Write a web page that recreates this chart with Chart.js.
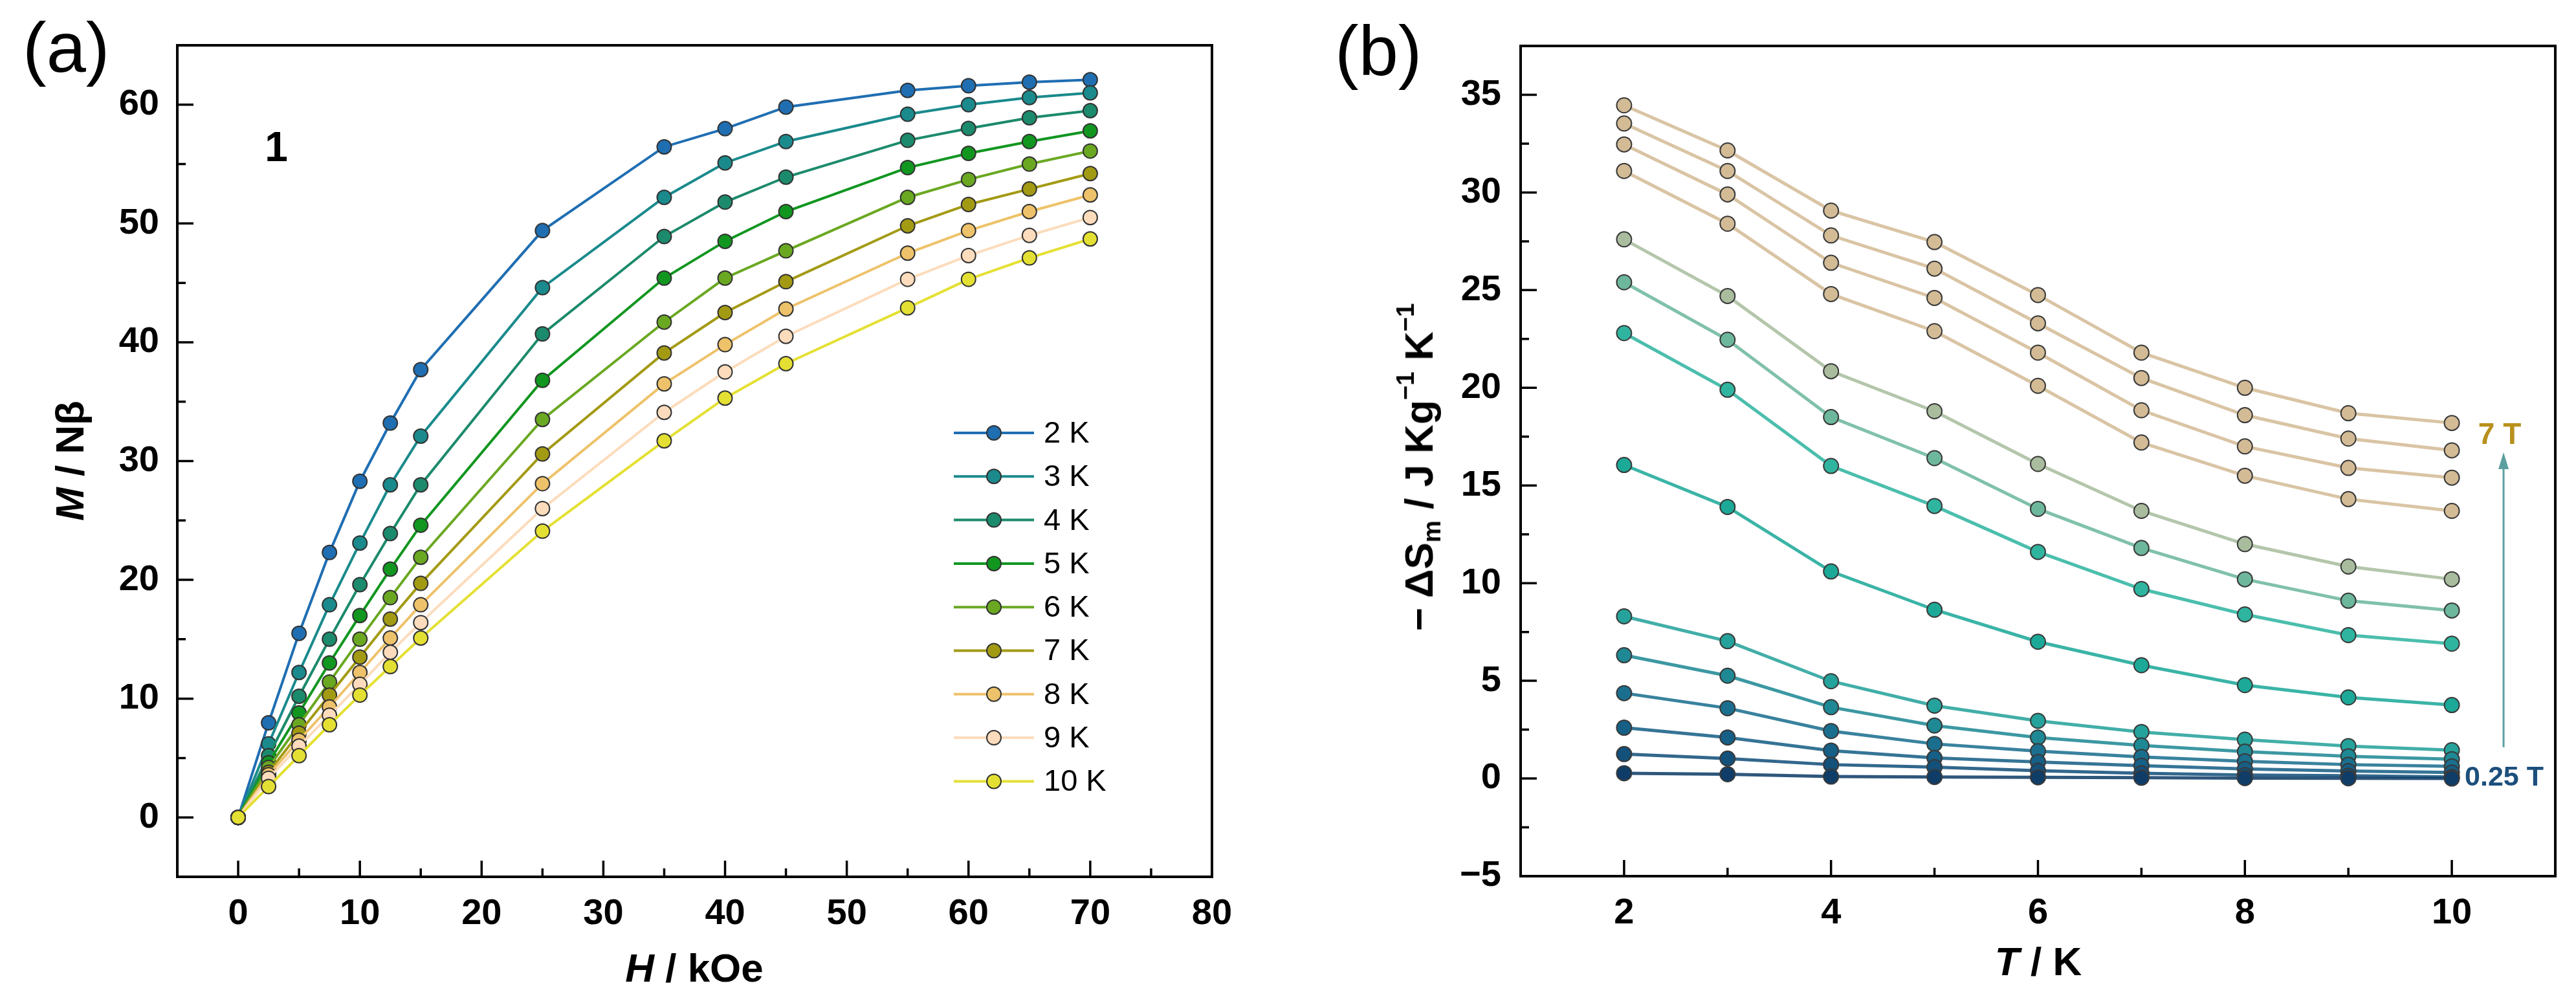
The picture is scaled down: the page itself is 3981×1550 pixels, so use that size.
<!DOCTYPE html>
<html>
<head>
<meta charset="utf-8">
<script src="https://cdn.jsdelivr.net/npm/chart.js@4.4.0/dist/chart.umd.min.js"></script>
<style>
  html, body { margin: 0; padding: 0; background: #fff; }
  body { width: 3981px; height: 1550px; position: relative; overflow: hidden; font-family: "Liberation Sans", Arial, sans-serif; }
  .box { position: absolute; top: 0; height: 1550px; }
  .txt { position: absolute; white-space: nowrap; line-height: 1; color: #000; }
  .c { transform: translate(-50%, -50%); }
  .r { transform: translate(-50%, -50%) rotate(-90deg); }
  .b { font-weight: bold; }
  sub, sup { font-size: 0.62em; line-height: 0; }
  sub { vertical-align: -0.3em; }
  sup { vertical-align: 0.75em; }
</style>
</head>
<body>
<div class="box" style="left:0;width:1990px"><canvas id="chartA" width="1990" height="1550"></canvas></div>
<div class="box" style="left:1990px;width:1991px"><canvas id="chartB" width="1991" height="1550"></canvas></div>

<div class="txt" style="left:35px;top:18px;font-size:110px">(a)</div>
<div class="txt" style="left:2063px;top:23px;font-size:110px">(b)</div>
<div class="txt c b" style="left:427px;top:227px;font-size:64px">1</div>
<div class="txt r b" style="left:108px;top:712px;font-size:62px"><i>M</i> / Nβ</div>
<div class="txt c b" style="left:1073px;top:1496px;font-size:62px"><i>H</i> / kOe</div>
<div class="txt r b" style="left:2193px;top:722px;font-size:62px">− ΔS<sub>m</sub> / J Kg<sup>−1</sup> K<sup>−1</sup></div>
<div class="txt c b" style="left:3150px;top:1486px;font-size:62px"><i>T</i> / K</div>
<div class="txt c b" style="left:3863px;top:670px;font-size:46px;color:#b8901c">7 T</div>
<div class="txt c b" style="left:3870px;top:1199px;font-size:43px;color:#1c4f7c">0.25 T</div>

<script>
// (a) magnetisation vs field
const fieldA = [0, 2.5, 5, 7.5, 10, 12.5, 15, 25, 35, 40, 45, 55, 60, 65, 70];
const tempLabelsA = ['2 K', '3 K', '4 K', '5 K', '6 K', '7 K', '8 K', '9 K', '10 K'];
const m2K  = [0, 7.97, 15.5, 22.3, 28.3, 33.2, 37.7, 49.4, 56.45, 57.98, 59.8, 61.2, 61.6, 61.9, 62.1];
const m3K  = [0, 6.2, 12.2, 17.9, 23.1, 28.0, 32.1, 44.6, 52.2, 55.1, 56.9, 59.2, 60.0, 60.6, 61.0];
const m4K  = [0, 5.2, 10.2, 15.0, 19.6, 23.9, 28.0, 40.7, 48.9, 51.8, 53.9, 57.0, 58.0, 58.9, 59.5];
const m5K  = [0, 4.6, 8.8, 13.0, 17.0, 20.9, 24.6, 36.8, 45.4, 48.5, 51.0, 54.7, 55.9, 56.9, 57.8];
const m6K  = [0, 4.2, 7.8, 11.4, 15.0, 18.5, 21.9, 33.5, 41.7, 45.4, 47.7, 52.2, 53.7, 55.0, 56.1];
const m7K  = [0, 3.8, 7.1, 10.3, 13.5, 16.7, 19.7, 30.6, 39.1, 42.5, 45.1, 49.8, 51.6, 52.9, 54.2];
const m8K  = [0, 3.6, 6.5, 9.3, 12.2, 15.1, 17.9, 28.1, 36.5, 39.8, 42.8, 47.5, 49.4, 51.0, 52.4];
const m9K  = [0, 3.3, 6.0, 8.6, 11.2, 13.9, 16.4, 26.0, 34.1, 37.5, 40.5, 45.3, 47.3, 49.0, 50.5];
const m10K = [0, 2.6, 5.2, 7.8, 10.3, 12.7, 15.1, 24.1, 31.7, 35.3, 38.2, 42.9, 45.3, 47.1, 48.7];
const xTicksA = [0, 10, 20, 30, 40, 50, 60, 70, 80];
const yTicksA = [0, 10, 20, 30, 40, 50, 60];

// (b) entropy change vs temperature, one curve per field
const tempB = [2, 3, 4, 5, 6, 7, 8, 9, 10];
const ds0_25 = [0.27, 0.22, 0.10, 0.08, 0.06, 0.04, 0.02, 0.01, 0.0];
const ds0_5  = [1.25, 1.02, 0.71, 0.58, 0.40, 0.27, 0.18, 0.14, 0.08];
const ds0_75 = [2.6, 2.1, 1.43, 1.05, 0.85, 0.66, 0.49, 0.38, 0.31];
const ds1    = [4.37, 3.6, 2.43, 1.77, 1.4, 1.1, 0.88, 0.71, 0.62];
const ds1_5  = [6.31, 5.26, 3.65, 2.71, 2.1, 1.69, 1.38, 1.14, 0.99];
const ds2    = [8.3, 7.03, 4.98, 3.73, 2.95, 2.38, 1.99, 1.66, 1.45];
const ds2_5  = [16.05, 13.9, 10.6, 8.64, 7.0, 5.8, 4.78, 4.15, 3.76];
const ds3    = [22.8, 19.9, 16.0, 13.95, 11.6, 9.7, 8.4, 7.34, 6.9];
const ds4    = [25.4, 22.46, 18.5, 16.4, 13.8, 11.8, 10.2, 9.1, 8.6];
const ds5    = [27.6, 24.7, 20.85, 18.8, 16.1, 13.7, 12.0, 10.85, 10.2];
const ds5_5  = [31.1, 28.4, 24.8, 22.9, 20.1, 17.2, 15.5, 14.3, 13.7];
const ds6    = [32.46, 29.9, 26.4, 24.6, 21.8, 18.85, 17.0, 15.9, 15.4];
const ds6_5  = [33.53, 31.1, 27.8, 26.1, 23.3, 20.5, 18.6, 17.4, 16.8];
const ds7    = [34.46, 32.15, 29.07, 27.46, 24.75, 21.8, 20.0, 18.7, 18.2];
const fieldLabelsB = ['0.25 T', '0.5 T', '0.75 T', '1 T', '1.5 T', '2 T', '2.5 T', '3 T', '4 T', '5 T', '5.5 T', '6 T', '6.5 T', '7 T'];
const xTicksB = [2, 4, 6, 8, 10];
const yTicksB = [-5, 0, 5, 10, 15, 20, 25, 30, 35];

const colorsA = ['#1f6eb2', '#1a8a8c', '#1c8a6c', '#119620', '#6aa822', '#a39a14', '#eec26a', '#fcdcbc', '#e4e033'];
const colorsB = ['#0f3d68', '#13507a', '#165f86', '#1a6f8f', '#1e8894', '#25a29b', '#1ca998', '#2fb4a0', '#6db79c', '#a9bd9e',
                 '#d3bb96', '#d3bb96', '#d3bb96', '#d3bb96'];

Chart.defaults.font.family = '"Liberation Sans", Arial, sans-serif';
Chart.defaults.color = '#000';

const toXY = (xs, ys) => ys.map((v, i) => ({ x: xs[i], y: v }));
const minusLabel = v => (v < 0 ? '\u2212' + Math.abs(v) : String(v));

// box around the plot with ticks pointing inward
const frameTicks = {
  id: 'frameTicks',
  afterDatasetsDraw(chart, args, o) {
    const { ctx, chartArea: a, scales: { x, y } } = chart;
    ctx.save();
    ctx.strokeStyle = '#000';
    ctx.lineWidth = 4;
    ctx.strokeRect(a.left, a.top, a.right - a.left, a.bottom - a.top);
    ctx.lineWidth = 3.5;
    ctx.beginPath();
    o.xMajor.forEach(v => { const p = x.getPixelForValue(v); ctx.moveTo(p, a.bottom); ctx.lineTo(p, a.bottom - 25); });
    o.xMinor.forEach(v => { const p = x.getPixelForValue(v); ctx.moveTo(p, a.bottom); ctx.lineTo(p, a.bottom - 13); });
    o.yMajor.forEach(v => { const p = y.getPixelForValue(v); ctx.moveTo(a.left, p); ctx.lineTo(a.left + 25, p); });
    o.yMinor.forEach(v => { const p = y.getPixelForValue(v); ctx.moveTo(a.left, p); ctx.lineTo(a.left + 13, p); });
    ctx.stroke();
    ctx.restore();
  }
};

// legend with line + marker inside panel (a)
const lineLegend = {
  id: 'lineLegend',
  afterDraw(chart, args, o) {
    const ctx = chart.ctx;
    ctx.save();
    chart.data.datasets.forEach((d, i) => {
      const yy = o.top + i * o.gap;
      ctx.strokeStyle = d.borderColor;
      ctx.lineWidth = 4;
      ctx.beginPath();
      ctx.moveTo(o.left, yy);
      ctx.lineTo(o.left + o.len, yy);
      ctx.stroke();
      ctx.beginPath();
      ctx.arc(o.left + o.len / 2, yy, 11, 0, Math.PI * 2);
      ctx.fillStyle = d.pointBackgroundColor;
      ctx.fill();
      ctx.lineWidth = 2;
      ctx.strokeStyle = '#333';
      ctx.stroke();
      ctx.fillStyle = '#000';
      ctx.font = '47px "Liberation Sans", Arial, sans-serif';
      ctx.textBaseline = 'middle';
      ctx.fillText(d.label, o.left + o.len + 15, yy + 2);
    });
    ctx.restore();
  }
};

// field arrow in panel (b)
const fieldArrow = {
  id: 'fieldArrow',
  afterDatasetsDraw(chart, args, o) {
    const { ctx, scales: { x, y } } = chart;
    const px = x.getPixelForValue(o.x);
    const y0 = y.getPixelForValue(o.from);
    const y1 = y.getPixelForValue(o.to);
    ctx.save();
    ctx.strokeStyle = o.color;
    ctx.fillStyle = o.color;
    ctx.lineWidth = 3;
    ctx.beginPath();
    ctx.moveTo(px, y0);
    ctx.lineTo(px, y1 + 20);
    ctx.stroke();
    ctx.beginPath();
    ctx.moveTo(px, y1);
    ctx.lineTo(px - 8, y1 + 26);
    ctx.lineTo(px + 8, y1 + 26);
    ctx.closePath();
    ctx.fill();
    ctx.restore();
  }
};

const tickFont = { size: 56, weight: 'bold' };

new Chart(document.getElementById('chartA'), {
  type: 'line',
  data: {
    datasets: [m2K, m3K, m4K, m5K, m6K, m7K, m8K, m9K, m10K].map((ys, i) => ({
      label: tempLabelsA[i],
      data: toXY(fieldA, ys),
      borderColor: colorsA[i],
      backgroundColor: colorsA[i],
      pointBackgroundColor: colorsA[i],
      pointBorderColor: '#333',
      pointBorderWidth: 2,
      pointRadius: 11,
      borderWidth: 4,
      tension: 0,
      order: 8 - i
    }))
  },
  options: {
    responsive: false,
    animation: false,
    devicePixelRatio: 1,
    layout: { padding: { top: 70, right: 117, left: 0, bottom: 0 } },
    plugins: {
      legend: { display: false },
      tooltip: { enabled: false },
      frameTicks: { xMajor: [0, 10, 20, 30, 40, 50, 60, 70], xMinor: [5, 15, 25, 35, 45, 55, 65, 75],
                    yMajor: [0, 10, 20, 30, 40, 50, 60], yMinor: [-5, 5, 15, 25, 35, 45, 55] },
      lineLegend: { left: 1474, top: 669, gap: 67.3, len: 124 }
    },
    scales: {
      x: {
        type: 'linear', min: -5, max: 80,
        grid: { display: false, drawTicks: false }, border: { display: false },
        ticks: { font: tickFont, padding: 24, maxRotation: 0, autoSkip: false, callback: minusLabel },
        afterBuildTicks: s => { s.ticks = xTicksA.map(v => ({ value: v })); },
        afterFit: s => { s.height = 195; }
      },
      y: {
        min: -5, max: 65,
        grid: { display: false, drawTicks: false }, border: { display: false },
        ticks: { font: tickFont, padding: 28, autoSkip: false, callback: minusLabel },
        afterBuildTicks: s => { s.ticks = yTicksA.map(v => ({ value: v })); },
        afterFit: s => { s.width = 274; }
      }
    }
  },
  plugins: [frameTicks, lineLegend]
});

new Chart(document.getElementById('chartB'), {
  type: 'line',
  data: {
    datasets: [ds0_25, ds0_5, ds0_75, ds1, ds1_5, ds2, ds2_5, ds3, ds4, ds5, ds5_5, ds6, ds6_5, ds7].map((ys, i) => ({
      label: fieldLabelsB[i],
      data: toXY(tempB, ys),
      borderColor: colorsB[i] + 'dd',
      pointBackgroundColor: colorsB[i],
      pointBorderColor: '#3a3a3a',
      pointBorderWidth: 2,
      pointRadius: 11.5,
      borderWidth: 5,
      tension: 0,
      order: i
    }))
  },
  options: {
    responsive: false,
    animation: false,
    devicePixelRatio: 1,
    layout: { padding: { top: 71, right: 32, left: 0, bottom: 0 } },
    plugins: {
      legend: { display: false },
      tooltip: { enabled: false },
      frameTicks: { xMajor: [2, 4, 6, 8, 10], xMinor: [3, 5, 7, 9],
                    yMajor: [0, 5, 10, 15, 20, 25, 30, 35], yMinor: [-2.5, 2.5, 7.5, 12.5, 17.5, 22.5, 27.5, 32.5] },
      fieldArrow: { x: 10.5, from: 1.6, to: 16.7, color: '#5c9fa0' }
    },
    scales: {
      x: {
        type: 'linear', min: 1, max: 11,
        grid: { display: false, drawTicks: false }, border: { display: false },
        ticks: { font: tickFont, padding: 24, maxRotation: 0, autoSkip: false, callback: minusLabel },
        afterBuildTicks: s => { s.ticks = xTicksB.map(v => ({ value: v })); },
        afterFit: s => { s.height = 196; }
      },
      y: {
        min: -5, max: 37.5,
        grid: { display: false, drawTicks: false }, border: { display: false },
        ticks: { font: tickFont, padding: 30, autoSkip: false, callback: minusLabel },
        afterBuildTicks: s => { s.ticks = yTicksB.map(v => ({ value: v })); },
        afterFit: s => { s.width = 360; }
      }
    }
  },
  plugins: [frameTicks, fieldArrow]
});
</script>
</body>
</html>
